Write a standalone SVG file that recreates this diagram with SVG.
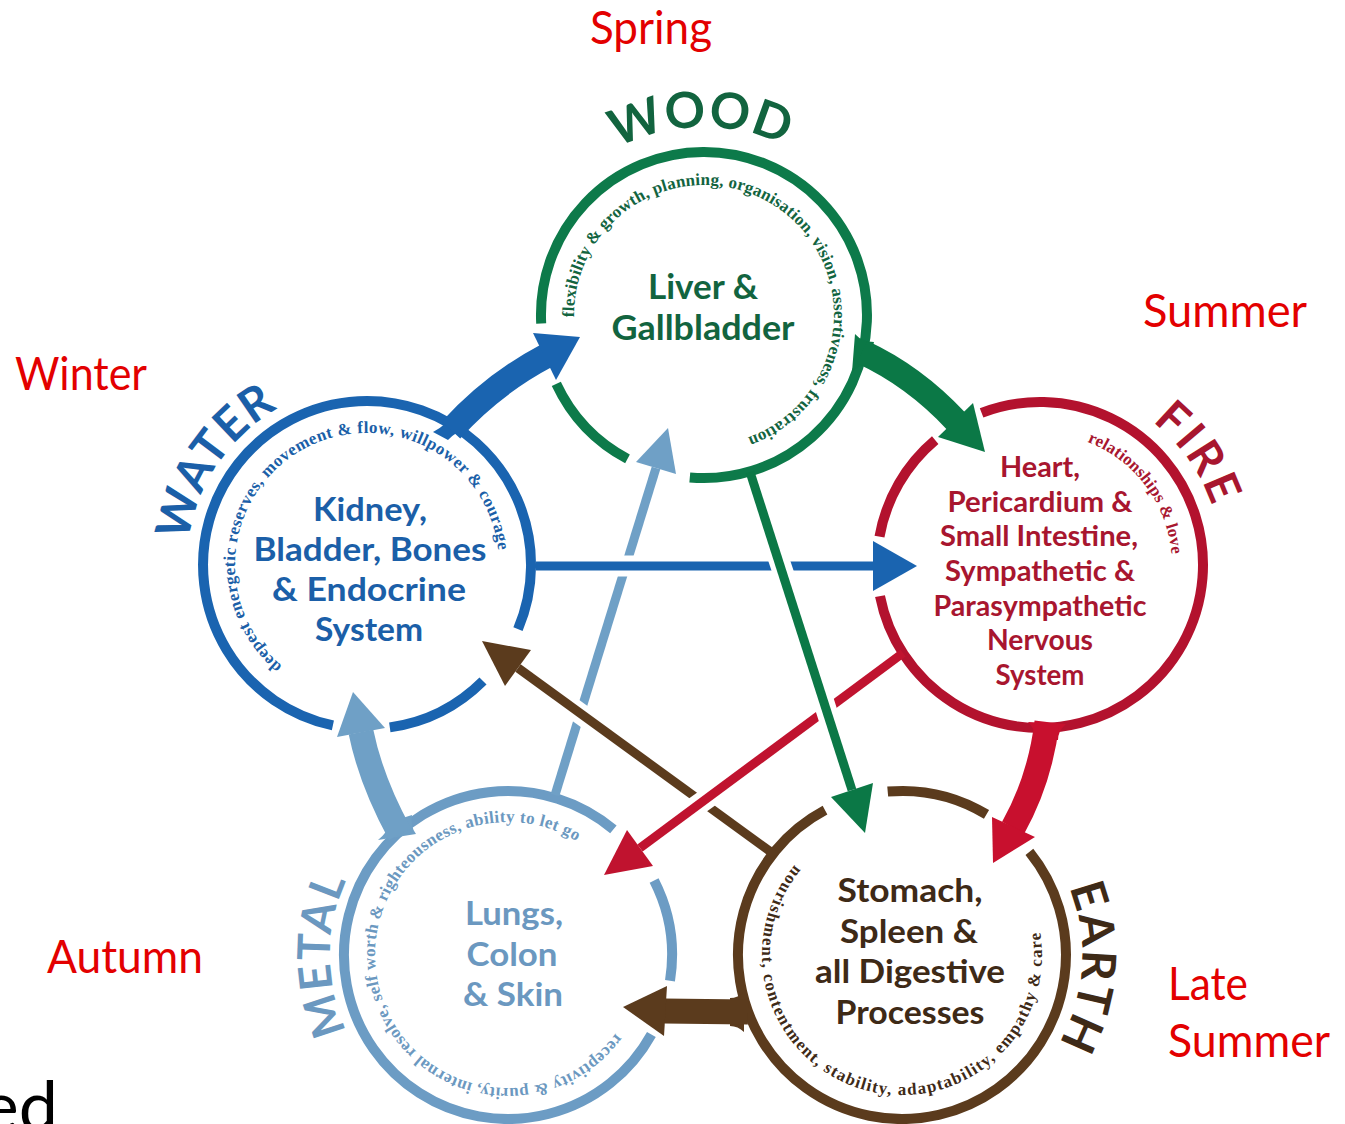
<svg xmlns="http://www.w3.org/2000/svg" width="1345" height="1124" viewBox="0 0 1345 1124">
<defs>
  <!-- baselines for the element names (outside the rings) -->
  <path id="woodTitle" d="M516.0,318.3 A188,188 0 0 1 892.0,311.7"/>
  <path id="waterTitle" d="M266.3,714.2 A180,180 0 0 1 467.7,415.8"/>
  <path id="fireTitle" d="M935.6,415.9 A182,182 0 0 1 1144.4,714.1"/>
  <path id="earthTitle" d="M914.6,775.4 A180,180 0 0 1 889.4,1134.6"/>
  <path id="metalTitle" d="M508,1133 A178,178 0 0 1 508,777"/>
  <!-- baselines for the qualities (inside the rings) -->
  <path id="woodQual" d="M574.0,317.3 A130,130 0 1 1 739.8,440.0"/>
  <path id="waterQual" d="M282.2,666.1 A132,132 0 1 1 498.9,560.4"/>
  <path id="fireQual" d="M1087.3,441.8 A132,132 0 0 1 1171.9,560.4"/>
  <path id="metalQual" d="M615.6,1033.2 A133,133 0 1 1 588.0,848.8"/>
  <path id="earthQual" d="M794.8,865.0 A140,140 0 1 0 1037.2,918.8"/>
  <!-- fillets where the thick arrows leave their rings -->
</defs>
<style>
  .ring{fill:none;stroke-width:10}
  .title{font-family:Lato,"Open Sans",sans-serif;font-weight:700}
  .quality{font-family:"Liberation Serif",serif;font-weight:700;font-size:17px}
  .organ{font-family:Lato,"Open Sans",sans-serif;font-weight:700;text-anchor:middle}
  .season{font-family:Lato,"Liberation Sans",sans-serif;fill:#e30000;font-size:46px}
  .thick{fill:none;stroke-width:25}
  .thin{fill:none;stroke-width:9}
  .halo{fill:none;stroke:#fff;stroke-width:21}
  .wood{fill:#12643f}
  .water{fill:#1b5fa8}
  .fire{fill:#a8162f}
  .metal{fill:#6b98c0}
  .earth{fill:#3e2a17}
</style>
<rect width="1345" height="1124" fill="#fff"/>

<!-- seasons -->
<g id="seasons">
  <text class="season" x="590" y="44" textLength="122" lengthAdjust="spacingAndGlyphs">Spring</text>
  <text class="season" x="1143" y="327" textLength="164" lengthAdjust="spacingAndGlyphs">Summer</text>
  <text class="season" x="15" y="390" textLength="132" lengthAdjust="spacingAndGlyphs">Winter</text>
  <text class="season" x="47" y="973" textLength="156" lengthAdjust="spacingAndGlyphs">Autumn</text>
  <text class="season" x="1168" y="1000" textLength="80" lengthAdjust="spacingAndGlyphs">Late</text>
  <text class="season" x="1168" y="1057" textLength="162" lengthAdjust="spacingAndGlyphs">Summer</text>
</g>
<text x="58" y="1131" font-family="Lato,'Liberation Sans',sans-serif" font-size="70" text-anchor="end" fill="#000">ed</text>

<!-- WOOD -->
<g id="wood">
  <path class="ring" stroke="#0d7a4a" d="M627.5,458.9 A163,163 0 0 1 556.3,383.9 M541.2,323.5 A163,163 0 1 1 689.8,477.4"/>
  <text class="title wood" font-size="50" letter-spacing="1" text-anchor="middle"><textPath href="#woodTitle" startOffset="50%">WOOD</textPath></text>
  <text class="quality wood"><textPath href="#woodQual" textLength="570" lengthAdjust="spacing">flexibility &amp; growth, planning, organisation, vision, assertiveness, frustration</textPath></text>
  <text class="organ wood" font-size="34" x="703" y="299" textLength="110" lengthAdjust="spacingAndGlyphs">Liver &amp;</text>
  <text class="organ wood" font-size="34" x="703" y="340" textLength="183" lengthAdjust="spacingAndGlyphs">Gallbladder</text>
</g>

<!-- WATER -->
<g id="water">
  <path class="ring" stroke="#1a64b0" d="M483,681 A164,164 0 0 1 389.8,727.4 M332.9,725.4 A164,164 0 1 1 518,629.1"/>
  <text class="title water" font-size="47" letter-spacing="1" text-anchor="middle"><textPath href="#waterTitle" startOffset="50%">WATER</textPath></text>
  <text class="quality water"><textPath href="#waterQual" textLength="515" lengthAdjust="spacing">deepest energetic reserves, movement &amp; flow, willpower &amp; courage</textPath></text>
  <text class="organ water" font-size="33" x="370" y="521" textLength="114" lengthAdjust="spacingAndGlyphs">Kidney,</text>
  <text class="organ water" font-size="33" x="370" y="561" textLength="233" lengthAdjust="spacingAndGlyphs">Bladder, Bones</text>
  <text class="organ water" font-size="33" x="369" y="601" textLength="194" lengthAdjust="spacingAndGlyphs">&amp; Endocrine</text>
  <text class="organ water" font-size="33" x="369" y="641" textLength="108" lengthAdjust="spacingAndGlyphs">System</text>
</g>

<!-- FIRE -->
<g id="fire">
  <path class="ring" stroke="#b3122e" d="M879.5,536.7 A163,163 0 0 1 935.2,440.1 M981.6,412.8 A163,163 0 1 1 880,596.1"/>
  <text class="title fire" font-size="46" letter-spacing="3" text-anchor="middle"><textPath href="#fireTitle" startOffset="50%">FIRE</textPath></text>
  <text class="quality fire" font-size="15"><textPath href="#fireQual" textLength="148" lengthAdjust="spacing">relationships &amp; love</textPath></text>
  <text class="organ fire" font-size="28.5" x="1040" y="477" textLength="80" lengthAdjust="spacingAndGlyphs">Heart,</text>
  <text class="organ fire" font-size="28.5" x="1040" y="511.7" textLength="185" lengthAdjust="spacingAndGlyphs">Pericardium &amp;</text>
  <text class="organ fire" font-size="28.5" x="1039" y="546.3" textLength="198" lengthAdjust="spacingAndGlyphs">Small Intestine,</text>
  <text class="organ fire" font-size="28.5" x="1040" y="581" textLength="190" lengthAdjust="spacingAndGlyphs">Sympathetic &amp;</text>
  <text class="organ fire" font-size="28.5" x="1040" y="615.7" textLength="213" lengthAdjust="spacingAndGlyphs">Parasympathetic</text>
  <text class="organ fire" font-size="28.5" x="1040" y="650.3" textLength="106" lengthAdjust="spacingAndGlyphs">Nervous</text>
  <text class="organ fire" font-size="28.5" x="1040" y="685" textLength="89" lengthAdjust="spacingAndGlyphs">System</text>
</g>

<!-- METAL -->
<g id="metal">
  <path class="ring" stroke="#6c9cc4" d="M654.1,880.5 A164,164 0 0 1 670,980.7 M651.4,1034.5 A164,164 0 1 1 613.4,829.4"/>
  <text class="title metal" font-size="45" letter-spacing="2" text-anchor="middle"><textPath href="#metalTitle" startOffset="50%">METAL</textPath></text>
  <text class="quality metal"><textPath href="#metalQual" textLength="615" lengthAdjust="spacing">receptivity &amp; purity, internal resolve, self worth &amp; righteousness, ability to let go</textPath></text>
  <text class="organ metal" font-size="33" x="514" y="925" textLength="98" lengthAdjust="spacingAndGlyphs">Lungs,</text>
  <text class="organ metal" font-size="33" x="512" y="966" textLength="91" lengthAdjust="spacingAndGlyphs">Colon</text>
  <text class="organ metal" font-size="33" x="513" y="1006" textLength="100" lengthAdjust="spacingAndGlyphs">&amp; Skin</text>
</g>

<!-- EARTH -->
<g id="earth">
  <path class="ring" stroke="#5b3b1d" d="M887.7,791.6 A164,164 0 0 1 986.5,814.4 M1029.4,851.8 A164,164 0 1 1 825,810.2"/>
  <text class="title earth" font-size="47" letter-spacing="2" text-anchor="middle"><textPath href="#earthTitle" startOffset="50%">EARTH</textPath></text>
  <text class="quality earth" font-size="18"><textPath href="#earthQual" textLength="560" lengthAdjust="spacing">nourishment, contentment, stability, adaptability, empathy &amp; care</textPath></text>
  <text class="organ earth" font-size="33" x="910" y="902" textLength="145" lengthAdjust="spacingAndGlyphs">Stomach,</text>
  <text class="organ earth" font-size="33" x="909" y="943" textLength="138" lengthAdjust="spacingAndGlyphs">Spleen &amp;</text>
  <text class="organ earth" font-size="33" x="910" y="983" textLength="190" lengthAdjust="spacingAndGlyphs">all Digestive</text>
  <text class="organ earth" font-size="33" x="910" y="1024" textLength="149" lengthAdjust="spacingAndGlyphs">Processes</text>
</g>

<g id="connectors">
  <!-- generating cycle: thick curved arrows, each with a small fillet at its ring -->
  <path fill="#1a64b0" d="M433,432 Q448,424 455,412 L468,428 Q455,432 448,440 Z"/>
  <path class="thick" stroke="#1a64b0" d="M451,430 Q493,384 546,356"/>
  <polygon fill="#1a64b0" points="580,337 533,333 556,380"/>
  <path fill="#0b7846" d="M855,334 Q862,342 874,342 L868,365 Q860,364 852,372 Z"/>
  <path class="thick" stroke="#0b7846" stroke-width="27" d="M862,352 Q914,376 956,421"/>
  <polygon fill="#0b7846" points="985,452 973,403 938,437"/>
  <path fill="#c8102e" d="M1028,722 Q1036,730 1036,740 L1058,740 Q1058,731 1066,724 Z"/>
  <path class="thick" stroke="#c8102e" d="M1047,722 Q1040,780 1013,828"/>
  <polygon fill="#c8102e" points="993,863 992,817 1035,837"/>
  <path fill="#5b3b1d" d="M744,992 Q738,998 730,998 L730,1026 Q738,1026 744,1032 Z"/>
  <path class="thick" stroke="#5b3b1d" stroke-width="28" d="M748,1012 L664,1011"/>
  <polygon fill="#5b3b1d" points="623,1007 667,986 664,1036"/>
  <path fill="#6fa0c6" d="M378,840 Q388,832 390,822 L412,815 Q410,826 416,834 Z"/>
  <path class="thick" stroke="#6fa0c6" d="M400,834 Q371,781 361,732"/>
  <polygon fill="#6fa0c6" points="353,692 337,737 385,728"/>

  <!-- controlling cycle: thin straight arrows -->
  <path class="thin" stroke="#6fa0c6" d="M555,795 L656,468"/>
  <polygon fill="#6fa0c6" points="668,428 676,474 636,462"/>

  <path class="halo" d="M604,566 H648"/>
  <path class="thin" stroke="#1a64b0" d="M536,566 H876"/>
  <polygon fill="#1a64b0" points="917,566 873,541 873,591"/>

  <path class="halo" d="M560,699 L600,728"/>
  <path class="thin" stroke="#5b3b1d" d="M775,855 L518,668"/>
  <polygon fill="#5b3b1d" points="482,641 531,650 505,686"/>

  <path class="halo" d="M720,789 L684,815"/>
  <path class="thin" stroke="#c0132f" d="M903,653 L640,848"/>
  <polygon fill="#c0132f" points="604,875 627,830 653,866"/>

  <path class="halo" d="M774,545 L788,587 M819,687 L833,731"/>
  <path class="thin" stroke="#0b7846" d="M750,472 L852,790"/>
  <polygon fill="#0b7846" points="865,833 873,783 831,797"/>
</g>
</svg>
